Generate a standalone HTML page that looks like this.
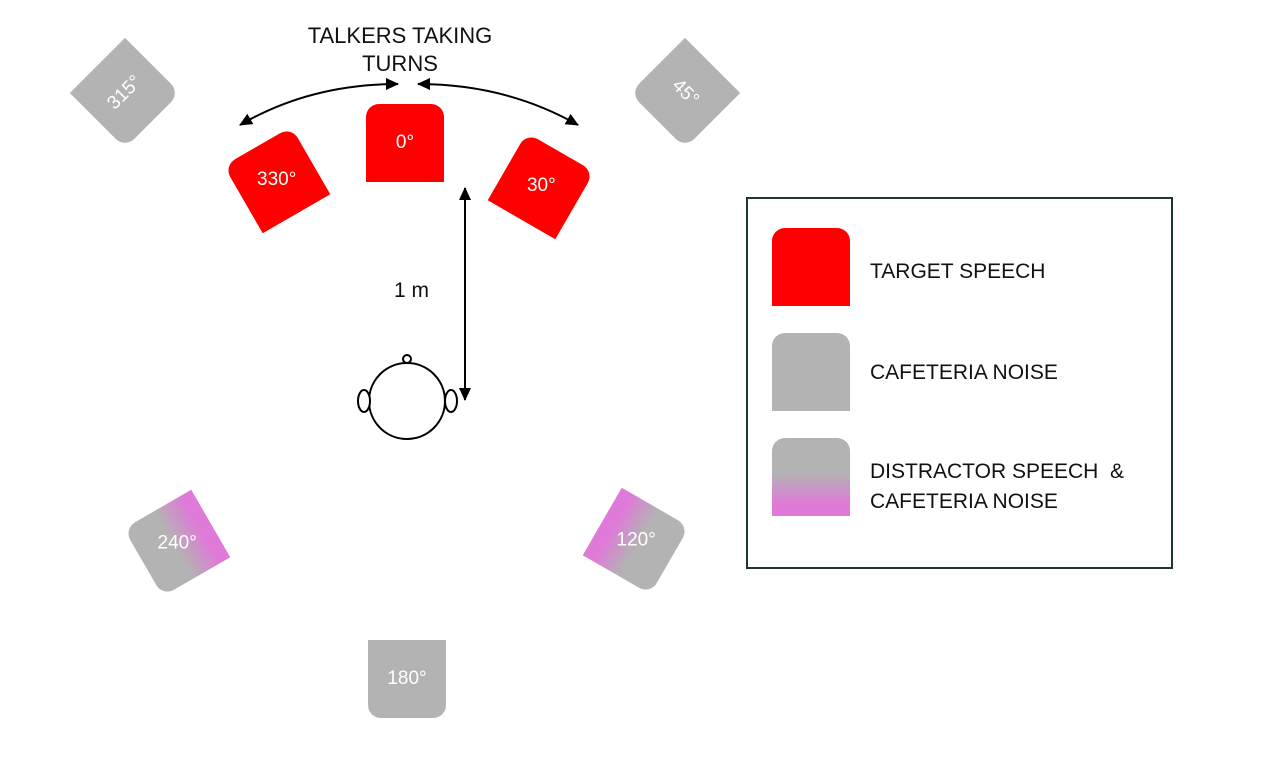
<!DOCTYPE html>
<html><head><style>
body{margin:0;width:1280px;height:768px;background:#fff;position:relative;overflow:hidden;font-family:"Liberation Sans",Arial,sans-serif}
.s{position:absolute;width:78px;height:78px;border-radius:13px 13px 0 0;color:#fff;font-size:19px;display:flex;align-items:center;justify-content:center}
.b{border-radius:0 0 13px 13px}
.r{background:#ff0000}.g{background:#b3b3b3}
.p{background:linear-gradient(to bottom,#b3b3b3 45%,#df7ad8 85%)}
.t{position:absolute;font-size:21px;color:#111}
</style></head><body>
<svg width="1280" height="768" style="position:absolute;left:0;top:0">
<defs>
<marker id="a2" markerWidth="14" markerHeight="14" refX="12" refY="6" orient="auto-start-reverse" markerUnits="userSpaceOnUse"><path d="M0,0 L13,6 L0,12 z" fill="#000"/></marker></defs>
<path d="M398,84 Q310,84 240,125" fill="none" stroke="#000" stroke-width="2" marker-start="url(#a2)" marker-end="url(#a2)"/>
<path d="M418,84 Q506,84 578,125" fill="none" stroke="#000" stroke-width="2" marker-start="url(#a2)" marker-end="url(#a2)"/>
<line x1="465" y1="188" x2="465" y2="400" stroke="#000" stroke-width="2" marker-start="url(#a2)" marker-end="url(#a2)"/>
<circle cx="407" cy="401" r="38" fill="#fff" stroke="#000" stroke-width="2"/>
<ellipse cx="364" cy="401" rx="6" ry="11" fill="#fff" stroke="#000" stroke-width="2"/>
<ellipse cx="451" cy="401" rx="6" ry="11" fill="#fff" stroke="#000" stroke-width="2"/>
<circle cx="407" cy="359" r="4" fill="#fff" stroke="#000" stroke-width="2"/>
<rect x="747" y="198" width="425" height="370" fill="none" stroke="#1e3636" stroke-width="2"/>
</svg>
<div class="t" style="left:290px;top:22px;width:220px;text-align:center;line-height:28px;font-size:22px">TALKERS TAKING<br>TURNS</div>
<div class="t" style="left:394px;top:279px">1 m</div>

<div class="s r" style="left:366px;top:104px">0°</div>
<div class="s r" style="left:238px;top:141px;transform:rotate(-30deg)"><span style="transform:rotate(30deg)">330°</span></div>
<div class="s r" style="left:502px;top:147px;transform:rotate(30deg)"><span style="transform:rotate(-30deg)">30°</span></div>
<div class="s g b" style="left:86px;top:54px;transform:rotate(-45deg)">315°</div>
<div class="s g b" style="left:646px;top:54px;transform:rotate(45deg)">45°</div>
<div class="s p" style="left:138px;top:504px;transform:rotate(240deg)"><span style="transform:rotate(-240deg)">240°</span></div>
<div class="s p" style="left:597px;top:502px;transform:rotate(120deg)"><span style="transform:rotate(-120deg)">120°</span></div>
<div class="s g b" style="left:368px;top:640px">180°</div>

<div class="s r" style="left:772px;top:228px"></div>
<div class="s g" style="left:772px;top:333px"></div>
<div class="s p" style="left:772px;top:438px"></div>
<div class="t" style="left:870px;top:260px">TARGET SPEECH</div>
<div class="t" style="left:870px;top:361px">CAFETERIA NOISE</div>
<div class="t" style="left:870px;top:457px;line-height:30px">DISTRACTOR SPEECH &nbsp;&amp;<br>CAFETERIA NOISE</div>
</body></html>
